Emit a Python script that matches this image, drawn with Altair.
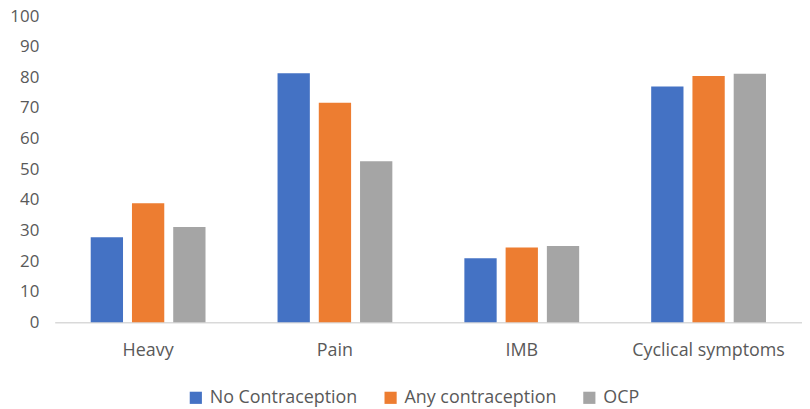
import altair as alt
import pandas as pd

categories = ["Heavy", "Pain", "IMB", "Cyclical symptoms"]
series = ["No Contraception", "Any contraception", "OCP"]
no_contraception = [27.8, 81.4, 20.9, 77.0]
any_contraception = [38.9, 71.7, 24.4, 80.5]
ocp = [31.1, 52.6, 24.9, 81.2]
colors = ["#4472C4", "#ED7D31", "#A5A5A5"]
y_ticks = list(range(0, 101, 10))

rows = []
for name, vals in zip(series, [no_contraception, any_contraception, ocp]):
    for c, v in zip(categories, vals):
        rows.append({"category": c, "series": name, "value": v})
df = pd.DataFrame(rows)

FONT = "Open Sans"
LABEL = "#595959"
FS = 18

chart = alt.Chart(df).mark_bar().encode(
    x=alt.X("category:N", sort=categories, title=None,
            scale=alt.Scale(paddingInner=0, paddingOuter=0),
            axis=alt.Axis(labelAngle=0, ticks=False, tickSize=0, domainColor="#D9D9D9",
                          domainWidth=1.5, labelPadding=19, labelFontSize=FS,
                          labelFont=FONT, labelColor=LABEL, grid=False)),
    xOffset=alt.XOffset("series:N", sort=series,
                        scale=alt.Scale(paddingInner=0.217, paddingOuter=0.873)),
    y=alt.Y("value:Q", title=None,
            scale=alt.Scale(domain=[0, 100], nice=False),
            axis=alt.Axis(values=y_ticks, ticks=False, tickSize=0, domain=False, grid=False,
                          labelPadding=16, labelFontSize=17, labelFont=FONT,
                          labelColor=LABEL)),
    color=alt.Color("series:N", sort=series,
                    scale=alt.Scale(domain=series, range=colors),
                    legend=alt.Legend(title=None, orient="none", direction="horizontal",
                                      legendX=133, legendY=375, symbolType="square",
                                      symbolSize=150, symbolStrokeWidth=0,
                                      labelFontSize=FS, labelFont=FONT, labelColor=LABEL,
                                      labelOffset=5, columnPadding=24)),
).properties(
    width=752, height=308,
    autosize=alt.AutoSizeParams(type="none"),
    padding={"left": 47, "top": 7, "right": 0, "bottom": 86},
).configure_view(stroke=None)

chart.save("out.html", embed_options={"renderer": "svg", "actions": False})
